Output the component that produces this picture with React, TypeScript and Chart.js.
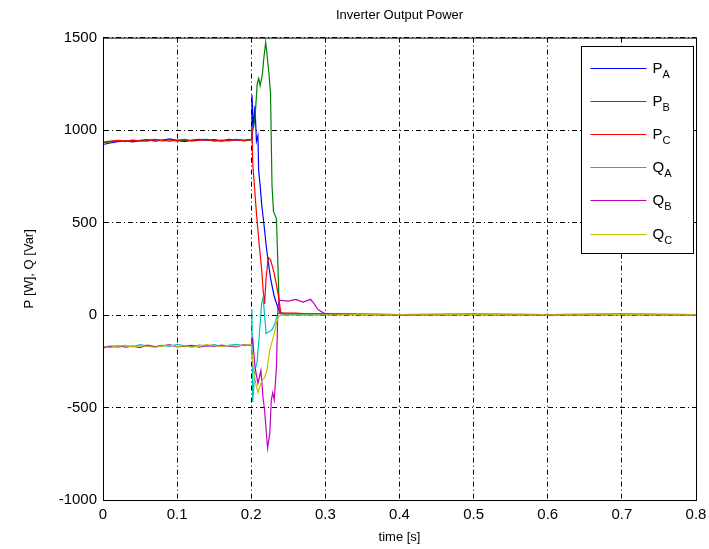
import React, { useEffect, useRef } from "react";
import { Chart, registerables } from "chart.js";

Chart.register(...registerables);

// ---- data ----
const T_STEADY = [0, 0.01, 0.02, 0.03, 0.04, 0.05, 0.06, 0.07, 0.08, 0.09, 0.1, 0.11, 0.12, 0.13, 0.14, 0.15, 0.16, 0.17, 0.18, 0.19, 0.2];
const PA_STEADY = [922, 930, 938, 942, 936, 944, 948, 940, 946, 952, 944, 938, 946, 950, 944, 948, 942, 950, 946, 944, 948];
const PB_STEADY = [930, 936, 942, 938, 944, 940, 946, 950, 942, 948, 940, 946, 942, 948, 950, 944, 940, 946, 950, 942, 946];
const PC_STEADY = [935, 940, 944, 940, 946, 942, 940, 948, 944, 940, 946, 950, 942, 944, 948, 940, 946, 942, 948, 944, 950];
const QA_STEADY = [-172, -168, -175, -165, -170, -160, -168, -172, -164, -170, -158, -166, -172, -162, -168, -160, -170, -164, -158, -166, -162];
const QB_STEADY = [-178, -170, -166, -174, -168, -176, -162, -170, -166, -160, -172, -168, -164, -174, -166, -170, -162, -168, -172, -160, -165];
const QC_STEADY = [-170, -176, -168, -164, -172, -166, -170, -174, -168, -162, -170, -166, -174, -168, -160, -166, -170, -164, -168, -162, -160];

const PA_T = [0.201, 0.203, 0.205, 0.207, 0.209, 0.21, 0.212, 0.214, 0.216, 0.218, 0.22, 0.222, 0.226, 0.231, 0.236, 0.24, 0.25, 0.27];
const PA_V = [1190, 1010, 1130, 940, 970, 780, 700, 600, 530, 460, 380, 315, 200, 100, 40, 10, 6, 4];
const PB_T = [0.202, 0.205, 0.208, 0.21, 0.212, 0.215, 0.217, 0.2195, 0.222, 0.224, 0.226, 0.228, 0.23, 0.234, 0.238, 0.245, 0.27];
const PB_V = [1000, 1060, 1250, 1280, 1240, 1300, 1390, 1475, 1380, 1300, 1200, 700, 560, 520, 10, 6, 5];
const PC_T = [0.201, 0.202, 0.207, 0.211, 0.214, 0.216, 0.218, 0.22, 0.223, 0.226, 0.231, 0.236, 0.24, 0.26, 0.27];
const PC_V = [1010, 820, 550, 370, 250, 135, 60, 200, 310, 300, 225, 120, 12, 10, 8];
const QA_T = [0.201, 0.202, 0.205, 0.208, 0.211, 0.214, 0.216, 0.218, 0.22, 0.224, 0.228, 0.232, 0.236, 0.24, 0.27];
const QA_V = [30, -470, -300, -250, -100, 60, 95, 0, -100, -90, -80, -45, 10, 5, 2];
const QB_T = [0.202, 0.205, 0.209, 0.213, 0.216, 0.218, 0.222, 0.225, 0.227, 0.229, 0.231, 0.234, 0.236, 0.238, 0.25, 0.26, 0.27, 0.28, 0.285, 0.29, 0.3];
const QB_V = [-130, -280, -370, -300, -450, -515, -720, -640, -460, -420, -460, -280, 40, 80, 75, 85, 70, 85, 60, 30, 5];
const QC_T = [0.203, 0.206, 0.209, 0.212, 0.215, 0.218, 0.221, 0.225, 0.231, 0.236, 0.24, 0.27];
const QC_V = [-300, -370, -420, -380, -350, -340, -300, -190, -100, -10, 0, 0];

const TAIL_T = [0.35, 0.4, 0.5, 0.6, 0.7, 0.8];
const TAIL_P = [4, 3, 4, 3, 4, 3];
const TAIL_Q = [2, 1, 2, 1, 2, 1];

const SERIES_NAMES = [["P", "A"], ["P", "B"], ["P", "C"], ["Q", "A"], ["Q", "B"], ["Q", "C"]];
const SERIES_COLORS = ["#0000ff", "#008000", "#ff0000", "#00bfbf", "#bf00bf", "#bfbf00"];

const X_MIN = 0, X_MAX = 0.8, X_STEP = 0.1;
const Y_MIN = -1000, Y_MAX = 1500, Y_STEP = 500;

const FONT = "'Liberation Sans', Arial, Helvetica, sans-serif";

function build(steady: number[], t: number[], v: number[], tail: number[]) {
  const xs = [...T_STEADY, ...t, ...TAIL_T];
  const ys = [...steady, ...v, ...tail];
  return xs.map((x, i) => ({ x, y: ys[i] }));
}

const frameAndLegend = {
  id: "frameAndLegend",
  afterDraw(chart: any) {
    const { ctx, chartArea: a } = chart;
    ctx.save();
    ctx.strokeStyle = "#000";
    ctx.lineWidth = 1;
    ctx.setLineDash([]);
    ctx.strokeRect(a.left + 0.5, a.top + 0.5, a.right - a.left, a.bottom - a.top);

    const w = 112, h = 207;
    const x0 = Math.round(a.right - w - 3) + 0.5;
    const y0 = Math.round(a.top + 8) + 0.5;
    ctx.fillStyle = "#fff";
    ctx.fillRect(x0, y0, w, h);
    ctx.strokeRect(x0, y0, w, h);
    SERIES_NAMES.forEach((nm, i) => {
      const y = Math.round(y0 + 21 + i * 33.2) + 0.5;
      ctx.strokeStyle = SERIES_COLORS[i];
      ctx.lineWidth = 1.2;
      ctx.beginPath();
      ctx.moveTo(x0 + 9, y);
      ctx.lineTo(x0 + 65, y);
      ctx.stroke();
      ctx.fillStyle = "#000";
      ctx.textBaseline = "alphabetic";
      ctx.textAlign = "left";
      ctx.font = `15px ${FONT}`;
      ctx.fillText(nm[0], x0 + 71, y + 4);
      const pw = ctx.measureText(nm[0]).width;
      ctx.font = `11px ${FONT}`;
      ctx.fillText(nm[1], x0 + 71 + pw, y + 9);
    });
    ctx.restore();
  },
};

export default function App() {
  const ref = useRef<HTMLCanvasElement | null>(null);
  useEffect(() => {
    document.body.style.margin = "0";
    const canvas = ref.current!;
    const steadies = [PA_STEADY, PB_STEADY, PC_STEADY, QA_STEADY, QB_STEADY, QC_STEADY];
    const ts = [PA_T, PB_T, PC_T, QA_T, QB_T, QC_T];
    const vs = [PA_V, PB_V, PC_V, QA_V, QB_V, QC_V];
    const datasets = SERIES_NAMES.map((nm, i) => ({
      label: nm[0] + nm[1],
      data: build(steadies[i], ts[i], vs[i], i < 3 ? TAIL_P : TAIL_Q),
      borderColor: SERIES_COLORS[i],
      backgroundColor: SERIES_COLORS[i],
      borderWidth: 1.2,
      pointRadius: 0,
      tension: 0,
      fill: false,
      order: 6 - i,
    }));
    const chart = new Chart(canvas, {
      type: "line",
      data: { datasets },
      plugins: [frameAndLegend],
      options: {
        animation: false,
        responsive: false,
        layout: { padding: { left: 20, right: 13, top: 0, bottom: 2 } },
        plugins: {
          legend: { display: false },
          tooltip: { enabled: false },
          title: {
            display: true,
            text: "Inverter Output Power",
            fullSize: false,
            color: "#000",
            font: { family: FONT, size: 13, weight: "normal" },
            padding: { top: 8, bottom: 14 },
          },
        },
        scales: {
          x: {
            type: "linear",
            min: X_MIN,
            max: X_MAX,
            ticks: {
              stepSize: X_STEP,
              color: "#000",
              font: { family: FONT, size: 15 },
              padding: 6,
              maxRotation: 0,
              callback: (v: any) => String(Math.round(Number(v) * 10) / 10),
            },
            grid: { color: "#000", lineWidth: 1, drawTicks: false },
            border: { display: true, color: "#000", dash: [5, 3, 1, 3] },
            title: {
              display: true,
              text: "time [s]",
              color: "#000",
              font: { family: FONT, size: 13 },
              padding: { top: 2, bottom: 2 },
            },
            afterFit: (s: any) => { s.height = 47; s.paddingRight = 0; s.paddingLeft = 0; },
          },
          y: {
            type: "linear",
            min: Y_MIN,
            max: Y_MAX,
            ticks: {
              stepSize: Y_STEP,
              color: "#000",
              font: { family: FONT, size: 15 },
              padding: 6,
              callback: (v: any) => String(Math.round(Number(v))),
            },
            grid: { color: "#000", lineWidth: 1, drawTicks: false },
            border: { display: true, color: "#000", dash: [5, 3, 1, 3] },
            title: {
              display: true,
              text: "P [W], Q [Var]",
              color: "#000",
              font: { family: FONT, size: 13 },
              padding: { top: 2, bottom: 2 },
            },
            afterFit: (s: any) => { s.width = 83; },
          },
        },
      } as any,
    });
    return () => chart.destroy();
  }, []);
  return <canvas ref={ref} width={709} height={549} style={{ display: "block" }} />;
}
